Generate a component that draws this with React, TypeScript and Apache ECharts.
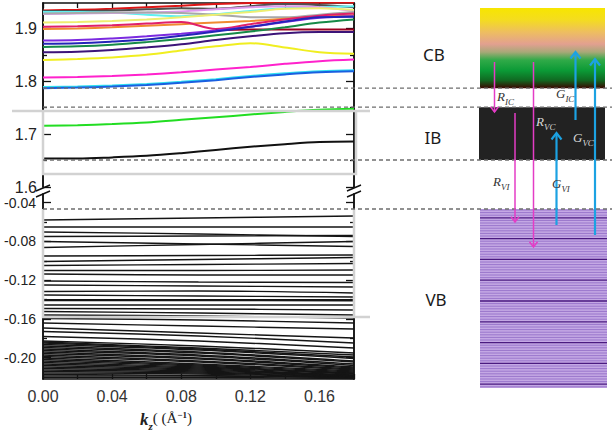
import { useEffect, useRef } from 'react';
import * as echarts from 'echarts';

// Wave-vector sample points (Å^-1)
const kFine = [0, 0.02, 0.04, 0.06, 0.08, 0.1, 0.12, 0.14, 0.16, 0.18];
const kCoarse = [0, 0.09, 0.18];

// Axis ticks and labels
const xTickValues = [0, 0.02, 0.04, 0.06, 0.08, 0.1, 0.12, 0.14, 0.16, 0.18];
const xLabelValues = [0, 0.04, 0.08, 0.12, 0.16];
const upperLabelValues = [1.6, 1.7, 1.8, 1.9];
const upperMinorValues = [1.65, 1.75, 1.85];
const lowerLabelValues = [-0.04, -0.08, -0.12, -0.16, -0.2];
const lowerMinorValues = [-0.06, -0.1, -0.14, -0.18];

// Band edges (eV)
const CB_MIN = 1.787;
const IB_MAX = 1.751;
const IB_MIN = 1.651;
const VB_MAX = -0.0465;

// Intermediate band states (eV)
const ibBlack = [1.654, 1.654, 1.656, 1.659, 1.664, 1.67, 1.676, 1.681, 1.685, 1.686];
const ibGreen = [1.716, 1.717, 1.719, 1.722, 1.727, 1.732, 1.737, 1.742, 1.746, 1.748];

// Conduction band states (eV)
const cbBlue = [1.787, 1.788, 1.79, 1.793, 1.797, 1.802, 1.808, 1.813, 1.817, 1.819];
const cbCyan = [1.789, 1.79, 1.792, 1.795, 1.799, 1.804, 1.81, 1.815, 1.819, 1.821];
const cbMagenta = [1.807, 1.808, 1.81, 1.813, 1.817, 1.822, 1.827, 1.833, 1.838, 1.841];
const cbYellow = [1.84, 1.842, 1.845, 1.85, 1.858, 1.866, 1.872, 1.864, 1.855, 1.852];
const cbIndigo = [1.855, 1.856, 1.859, 1.864, 1.87, 1.878, 1.885, 1.891, 1.893, 1.893];
const cbTeal = [1.865, 1.866, 1.869, 1.874, 1.88, 1.887, 1.894, 1.902, 1.911, 1.917];
const cbRoyal = [1.871, 1.872, 1.875, 1.879, 1.886, 1.894, 1.903, 1.913, 1.921, 1.922];
const cbViolet = [1.877, 1.878, 1.881, 1.885, 1.89, 1.896, 1.903, 1.912, 1.92, 1.923];
const cbOrange = [1.899, 1.9, 1.902, 1.905, 1.908, 1.911, 1.914, 1.918, 1.922, 1.925];
const cbCrimson = [1.903, 1.904, 1.906, 1.909, 1.912, 1.899, 1.908, 1.917, 1.924, 1.928];
const cbMaroon = [null, null, null, null, null, 1.897, 1.898, 1.898, 1.898, 1.898];
const cbPaleYellow = [1.911, 1.912, 1.914, 1.917, 1.921, 1.926, 1.931, 1.937, 1.938, 1.935];
const cbGray = [1.928, 1.929, 1.93, 1.93, 1.929, 1.926, 1.921, 1.921, 1.926, 1.931];
const cbLavender = [1.927, 1.928, 1.929, 1.93, 1.932, 1.936, 1.94, 1.942, 1.94, 1.933];
const cbAqua = [1.931, 1.931, 1.93, 1.926, 1.923, 1.927, 1.933, 1.938, 1.94, 1.942];
const cbSlate = [1.933, 1.933, 1.934, 1.936, 1.938, 1.937, 1.942, 1.946, 1.944, 1.94];
const cbRed = [1.934, 1.935, 1.937, 1.94, 1.943, 1.946, 1.948, 1.949, 1.949, 1.949];

// Valence band states near the top of the band (eV at kCoarse)
const vbUpper = [
  [-0.0578, -0.0558, -0.0537],
  [-0.0651, -0.0651, -0.0651],
  [-0.0702, -0.0723, -0.0749],
  [-0.0749, -0.0744, -0.0738],
  [-0.08, -0.0826, -0.0852],
  [-0.0862, -0.0831, -0.08],
  [-0.095, -0.0945, -0.094],
  [-0.1007, -0.0986, -0.0966],
  [-0.1048, -0.1038, -0.1028],
  [-0.11, -0.11, -0.1095],
  [-0.1136, -0.1146, -0.1146],
  [-0.1208, -0.1219, -0.1224],
  [-0.1249, -0.126, -0.127],
  [-0.1317, -0.1311, -0.1332],
  [-0.1353, -0.1363, -0.1373],
  [-0.14, -0.14, -0.14],
  [-0.141, -0.141, -0.1412],
  [-0.1456, -0.1456, -0.1456],
];

// Deeper valence band states (eV at kCoarse)
const vbLower = [
  [-0.1492, -0.1497, -0.1508],
  [-0.1523, -0.1539, -0.1559],
  [-0.1559, -0.157, -0.159],
  [-0.1595, -0.1611, -0.1642],
  [-0.1642, -0.1673, -0.1704],
  [-0.1693, -0.1745, -0.1797],
  [-0.173, -0.1776, -0.1848],
  [-0.1781, -0.1828, -0.19],
  [-0.1828, -0.1879, -0.1952],
  [-0.1838, -0.19, -0.1972],
  [-0.1848, -0.191, -0.1993],
  [-0.1864, -0.1921, -0.2008],
  [-0.1879, -0.1941, -0.2034],
  [-0.1895, -0.1952, -0.2044],
  [-0.191, -0.1972, -0.2065],
  [-0.1926, -0.1983, -0.208],
  [-0.1941, -0.2003, -0.2096],
  [-0.1957, -0.2014, -0.2106],
  [-0.1972, -0.2034, -0.2117],
  [-0.1988, -0.2044, -0.2127],
  [-0.2003, -0.2065, -0.2137],
  [-0.2019, -0.2075, -0.2148],
  [-0.2034, -0.2086, -0.2158],
  [-0.205, -0.2096, -0.2163],
  [-0.2065, -0.2106, -0.2168],
  [-0.208, -0.2117, -0.2179],
  [-0.2096, -0.2127, -0.2184],
  [-0.2111, -0.2137, -0.2189],
  [-0.2127, -0.2148, -0.2194],
  [-0.2143, -0.2158, -0.2199],
  [-0.2158, -0.2168, -0.2205],
  [-0.2174, -0.2184, -0.2205],
  [-0.2189, -0.2189, -0.221],
  [-0.2205, -0.2205, -0.2215],
];

const INK = '#111';
const SANS = 'Liberation Sans, Arial, sans-serif';
const SERIF = 'Liberation Serif, Times New Roman, serif';
const MAGENTA = '#e43cc6';
const CYAN = '#1ca2e2';

function yAxisDef(
  grid: number,
  side: 'left' | 'right',
  min: number,
  max: number,
  ticks: number[],
  length: number,
  label?: { values: number[]; digits: number; size: number; margin: number },
) {
  return {
    type: 'value',
    gridIndex: grid,
    position: side,
    min,
    max,
    axisLine: { show: true, onZero: false, lineStyle: { color: INK, width: 1.5 } },
    axisTick: { show: true, inside: true, length, customValues: ticks, lineStyle: { color: INK, width: 1.3 } },
    axisLabel: label
      ? {
          show: true,
          customValues: label.values,
          formatter: (v: number) => v.toFixed(label.digits),
          fontSize: label.size,
          fontFamily: SANS,
          color: '#222',
          margin: label.margin,
        }
      : { show: false },
    splitLine: { show: false },
  };
}

function bandSeries(xi: number, yi: number, ks: number[], vals: (number | null)[], color: string, width: number) {
  return {
    type: 'line',
    xAxisIndex: xi,
    yAxisIndex: yi,
    data: ks.map((k, i) => [k, vals[i]]),
    showSymbol: false,
    symbol: 'none',
    smooth: 0.35,
    silent: true,
    clip: true,
    lineStyle: { color, width },
    emphasis: { disabled: true },
  };
}

function buildOption() {
  const UP_MIN = 1.6;
  const UP_MAX = 1.948;
  const LO_MIN = -0.222;
  const LO_MAX = -0.031;

  const upperBands: [(number | null)[], string][] = [
    [cbRed, '#dd1515'],
    [cbSlate, '#505050'],
    [cbAqua, '#5ff0f0'],
    [cbLavender, '#dc9aee'],
    [cbGray, '#a8a8a8'],
    [cbPaleYellow, '#eeee70'],
    [cbOrange, '#f08a30'],
    [cbCrimson, '#e0206a'],
    [cbMaroon, '#9a0020'],
    [cbViolet, '#7b2ae0'],
    [cbRoyal, '#2424b8'],
    [cbTeal, '#168a48'],
    [cbIndigo, '#3c1478'],
    [cbYellow, '#f0ee20'],
    [cbMagenta, '#ff22cc'],
    [cbCyan, '#30e0f0'],
    [cbBlue, '#1a5fe0'],
    [ibGreen, '#22dd22'],
    [ibBlack, '#111111'],
  ];

  const xAxisBase = {
    type: 'value',
    min: 0,
    max: 0.18,
    axisLine: { show: true, onZero: false, lineStyle: { color: INK, width: 1.5 } },
    axisTick: { show: true, inside: true, length: 5, customValues: xTickValues, lineStyle: { color: INK, width: 1.3 } },
    splitLine: { show: false },
  };

  return {
    animation: false,
    backgroundColor: '#fff',
    grid: [
      { left: 43, top: 3, width: 311, height: 184, outerBoundsMode: 'none' },
      { left: 43, top: 194, width: 311, height: 185, outerBoundsMode: 'none' },
    ],
    xAxis: [
      { ...xAxisBase, gridIndex: 0, position: 'top', axisLabel: { show: false } },
      {
        ...xAxisBase,
        gridIndex: 1,
        position: 'bottom',
        axisLabel: {
          show: true,
          customValues: xLabelValues,
          formatter: (v: number) => v.toFixed(2),
          fontSize: 16,
          fontFamily: SANS,
          color: '#333',
          margin: 9,
        },
      },
    ],
    yAxis: [
      yAxisDef(0, 'left', UP_MIN, UP_MAX, upperLabelValues, 8, { values: upperLabelValues, digits: 1, size: 16, margin: 6 }),
      yAxisDef(0, 'right', UP_MIN, UP_MAX, upperLabelValues, 8),
      yAxisDef(0, 'left', UP_MIN, UP_MAX, upperMinorValues, 4),
      yAxisDef(0, 'right', UP_MIN, UP_MAX, upperMinorValues, 4),
      yAxisDef(1, 'left', LO_MIN, LO_MAX, lowerLabelValues, 8, { values: lowerLabelValues, digits: 2, size: 14, margin: 7 }),
      yAxisDef(1, 'right', LO_MIN, LO_MAX, lowerLabelValues, 8),
      yAxisDef(1, 'left', LO_MIN, LO_MAX, lowerMinorValues, 4),
      yAxisDef(1, 'right', LO_MIN, LO_MAX, lowerMinorValues, 4),
    ],
    series: [
      ...vbUpper.map((v) => bandSeries(1, 4, kCoarse, v, '#151515', 1.4)),
      ...vbLower.map((v) => bandSeries(1, 4, kCoarse, v, '#151515', 1.4)),
      ...upperBands.map(([v, c]) => bandSeries(0, 0, kFine, v, c, 2)),
    ],
  };
}

function arrow(x: number, yFrom: number, yTo: number, color: string, width: number, head: number) {
  const dir = yTo > yFrom ? 1 : -1;
  return [
    { type: 'line', z: 80, shape: { x1: x, y1: yFrom, x2: x, y2: yTo }, style: { stroke: color, lineWidth: width } },
    {
      type: 'polyline',
      z: 80,
      shape: { points: [[x - head, yTo - dir * head * 1.3], [x, yTo], [x + head, yTo - dir * head * 1.3]] },
      style: { stroke: color, lineWidth: width, fill: 'none' },
    },
  ];
}

// Italic symbol with a lowered subscript
function mathLabel(x: number, y: number, main: string, sub: string, color: string) {
  return {
    type: 'text',
    z: 85,
    x,
    y,
    style: {
      text: `{m|${main}}{s|${sub}}`,
      verticalAlign: 'middle',
      rich: {
        m: { fontFamily: SERIF, fontStyle: 'italic', fontSize: 13, fill: color, verticalAlign: 'top', lineHeight: 14 },
        s: { fontFamily: SERIF, fontStyle: 'italic', fontSize: 9, fill: color, verticalAlign: 'bottom', lineHeight: 16 },
      },
    },
  };
}

function buildGraphics(chart: echarts.ECharts) {
  const py = (axis: number, v: number) => chart.convertToPixel({ yAxisIndex: axis }, v) as number;
  const yCb = py(0, CB_MIN);
  const yIbTop = py(0, IB_MAX);
  const yIbBot = py(0, IB_MIN);
  const yVb = py(4, VB_MAX);

  const els: any[] = [];

  // Highlight frames around the band regions
  const frame = { stroke: '#d2d2d2', lineWidth: 2.5 };
  els.push({ type: 'polyline', z: 50, shape: { points: [[12, 111], [370, 111]] }, style: { ...frame, fill: 'none' } });
  els.push({ type: 'polyline', z: 50, shape: { points: [[43, 111], [43, 174], [356, 174], [356, 111]] }, style: { ...frame, fill: 'none' } });
  els.push({ type: 'polyline', z: 50, shape: { points: [[43, yVb], [43, 317], [370, 317]] }, style: { ...frame, fill: 'none' } });
  els.push({ type: 'polyline', z: 50, shape: { points: [[354, yVb], [354, 317]] }, style: { ...frame, fill: 'none' } });

  // Axis break marks
  [[43, 0], [354, 0], [43, 6], [354, 6]].forEach(([x, d]) => {
    els.push({ type: 'line', z: 55, shape: { x1: x - 7, y1: 191 + d, x2: x + 7, y2: 185 + d }, style: { stroke: INK, lineWidth: 1.4 } });
  });

  // Right-hand schematic: band blocks
  els.push({
    type: 'rect',
    z: 40,
    shape: { x: 480, y: 8, width: 125, height: yCb - 8 },
    style: {
      fill: new echarts.graphic.LinearGradient(0, 0, 0, 1, [
        { offset: 0, color: '#f7e600' },
        { offset: 0.15, color: '#f4dc20' },
        { offset: 0.3, color: '#eebe60' },
        { offset: 0.45, color: '#e2a090' },
        { offset: 0.55, color: '#a8a878' },
        { offset: 0.65, color: '#30aa48' },
        { offset: 0.78, color: '#0b9a36' },
        { offset: 0.9, color: '#106a22' },
        { offset: 1, color: '#3a0800' },
      ]),
    },
  });
  els.push({ type: 'rect', z: 40, shape: { x: 479, y: yIbTop, width: 126, height: yIbBot - yIbTop }, style: { fill: '#222' } });
  const vbBottom = 388;
  els.push({ type: 'rect', z: 40, shape: { x: 480, y: yVb, width: 127, height: vbBottom - yVb }, style: { fill: '#c4a8e4' } });
  let n = 0;
  for (let y = yVb + 1; y < vbBottom; y += 2.6) {
    const dark = n % 8 === 3;
    els.push({
      type: 'line',
      z: 41,
      shape: { x1: 480, y1: y, x2: 607, y2: y },
      style: { stroke: dark ? '#4a1a80' : '#9470c8', lineWidth: dark ? 1.3 : 0.9 },
    });
    n += 1;
  }

  // Band-edge guides
  [yCb, yIbTop, yIbBot, yVb].forEach((y) => {
    els.push({
      type: 'line',
      z: 60,
      shape: { x1: 43, y1: y, x2: 612, y2: y },
      style: { stroke: '#6e6e6e', lineWidth: 1.4, lineDash: [4, 3] },
    });
  });

  // Band names
  [['CB', 434, 54], ['IB', 433, 137], ['VB', 436, 299]].forEach(([t, x, y]) => {
    els.push({
      type: 'text',
      z: 85,
      x,
      y,
      style: { text: t, fontFamily: 'Noto Sans, Open Sans, sans-serif', fontSize: 17, fill: '#1a1a1a', align: 'center', verticalAlign: 'middle' },
    });
  });

  // Recombination (down) and generation (up) transitions
  els.push(...arrow(494.5, 62, 112, MAGENTA, 1.5, 4));
  els.push(...arrow(515, 113, 222, MAGENTA, 1.5, 4));
  els.push(...arrow(533.5, 62, 247, MAGENTA, 1.5, 4));
  els.push(...arrow(556.5, 225, 133, CYAN, 2.2, 5));
  els.push(...arrow(575.5, 120, 52, CYAN, 2.2, 5));
  els.push(...arrow(595, 235, 59, CYAN, 2.2, 5));

  els.push(mathLabel(497, 98, 'R', 'IC', '#333'));
  els.push(mathLabel(556, 95, 'G', 'IC', '#333'));
  els.push(mathLabel(536, 123, 'R', 'VC', '#d8d8d8'));
  els.push(mathLabel(573, 139, 'G', 'VC', '#d8d8d8'));
  els.push(mathLabel(493, 183, 'R', 'VI', '#333'));
  els.push(mathLabel(552, 185, 'G', 'VI', '#333'));

  // Horizontal axis title
  els.push({
    type: 'text',
    z: 85,
    x: 140,
    y: 421,
    style: {
      text: '{k|k}{z|z}{t|( (Å}{e|−1}{t|)}',
      verticalAlign: 'middle',
      rich: {
        k: { fontFamily: SERIF, fontStyle: 'italic', fontWeight: 'bold', fontSize: 17, fill: '#222', verticalAlign: 'top', lineHeight: 18 },
        z: { fontFamily: SERIF, fontStyle: 'italic', fontWeight: 'bold', fontSize: 11, fill: '#222', verticalAlign: 'bottom', lineHeight: 21 },
        t: { fontFamily: SERIF, fontSize: 15, fill: '#222', verticalAlign: 'top', lineHeight: 18 },
        e: { fontFamily: SERIF, fontWeight: 'bold', fontSize: 9, fill: '#222', verticalAlign: 'top', lineHeight: 12 },
      },
    },
  });

  return els;
}

export default function App() {
  const ref = useRef<HTMLDivElement>(null);
  useEffect(() => {
    const el = ref.current;
    if (!el) return;
    const chart = echarts.init(el, null, { renderer: 'svg' });
    chart.setOption(buildOption() as any);
    chart.setOption({ graphic: buildGraphics(chart) });
    return () => chart.dispose();
  }, []);
  return (
    <div
      ref={ref}
      style={{ position: 'fixed', left: 0, top: 0, width: 612, height: 434, background: '#fff' }}
    />
  );
}
